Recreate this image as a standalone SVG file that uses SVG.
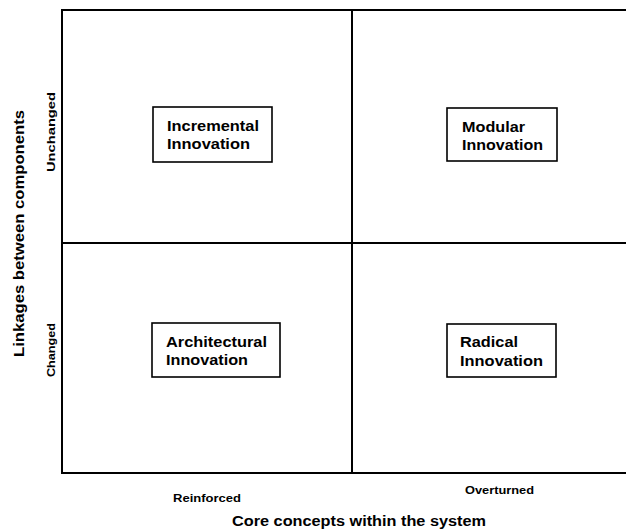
<svg xmlns="http://www.w3.org/2000/svg" width="626" height="529" viewBox="0 0 626 529">
<style>
.frame{fill:none;stroke:#000;stroke-width:2}
.box{fill:#fff;stroke:#000;stroke-width:1.6}
.t{font-family:"Liberation Sans",Arial,sans-serif;font-weight:bold;font-size:14.5px;fill:#000}
.s{font-family:"Liberation Sans",Arial,sans-serif;font-weight:bold;font-size:11.5px;fill:#000}
.ax{font-family:"Liberation Sans",Arial,sans-serif;font-weight:bold;font-size:14.5px;fill:#000}
</style>
<rect width="626" height="529" fill="#fff"/>
<g id="grid">
<path class="frame" d="M630 10 H62 V473 H630"/>
<path class="frame" d="M352 10 V473"/>
<path class="frame" d="M62 243 H630"/>
</g>
<g id="incremental">
<rect class="box" x="153" y="107" width="119" height="55"/>
<text class="t" x="167" y="131" textLength="92" lengthAdjust="spacingAndGlyphs">Incremental</text>
<text class="t" x="167" y="149" textLength="83" lengthAdjust="spacingAndGlyphs">Innovation</text>
</g>
<g id="modular">
<rect class="box" x="447" y="108" width="110" height="53"/>
<text class="t" x="462" y="132" textLength="63" lengthAdjust="spacingAndGlyphs">Modular</text>
<text class="t" x="462" y="150" textLength="81" lengthAdjust="spacingAndGlyphs">Innovation</text>
</g>
<g id="architectural">
<rect class="box" x="152" y="323" width="128" height="54"/>
<text class="t" x="166" y="347" textLength="101" lengthAdjust="spacingAndGlyphs">Architectural</text>
<text class="t" x="166" y="365" textLength="82" lengthAdjust="spacingAndGlyphs">Innovation</text>
</g>
<g id="radical">
<rect class="box" x="447" y="324" width="109" height="53"/>
<text class="t" x="460" y="347" textLength="58" lengthAdjust="spacingAndGlyphs">Radical</text>
<text class="t" x="460" y="366" textLength="83" lengthAdjust="spacingAndGlyphs">Innovation</text>
</g>
<g id="labels">
<text class="s" x="173" y="502" textLength="68" lengthAdjust="spacingAndGlyphs">Reinforced</text>
<text class="s" x="465" y="494" textLength="69" lengthAdjust="spacingAndGlyphs">Overturned</text>
<text class="ax" x="232" y="526" textLength="254" lengthAdjust="spacingAndGlyphs">Core concepts within the system</text>
<text class="s" transform="translate(55 172) rotate(-90)" textLength="80" lengthAdjust="spacingAndGlyphs">Unchanged</text>
<text class="s" transform="translate(55 377) rotate(-90)" textLength="54" lengthAdjust="spacingAndGlyphs">Changed</text>
<text class="ax" transform="translate(24 357) rotate(-90)" textLength="247" lengthAdjust="spacingAndGlyphs">Linkages between components</text>
</g>
</svg>
